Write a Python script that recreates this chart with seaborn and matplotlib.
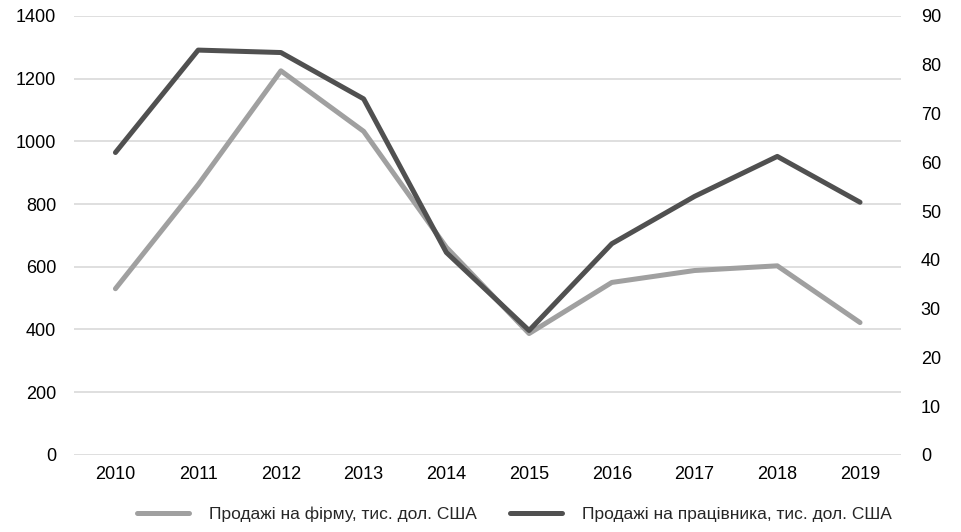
import pandas as pd
import seaborn as sns
import matplotlib.pyplot as plt

years = ['2010', '2011', '2012', '2013', '2014', '2015', '2016', '2017', '2018', '2019']
sales_per_firm = [530, 862, 1225, 1032, 662, 387, 550, 588, 603, 422]
sales_per_worker = [62, 83, 82.5, 73, 41.5, 25.5, 43.3, 53, 61.2, 51.8]

label_firm = 'Продажі на фірму, тис. дол. США'
label_worker = 'Продажі на працівника, тис. дол. США'

df = pd.DataFrame({'year': years, 'firm': sales_per_firm, 'worker': sales_per_worker})

sns.set_style('white')
plt.rcParams['font.family'] = ['Liberation Sans', 'DejaVu Sans']

fig = plt.figure(figsize=(9.62, 5.32), dpi=100)
ax = fig.add_axes([0.077, 0.145, 0.86, 0.825])
ax2 = ax.twinx()

sns.lineplot(data=df, x='year', y='firm', ax=ax, color='#a0a0a0', linewidth=3.6,
             label=label_firm, legend=False, zorder=3)
sns.lineplot(data=df, x='year', y='worker', ax=ax2, color='#505050', linewidth=3.6,
             label=label_worker, legend=False, zorder=3)

ax.set_ylim(0, 1400)
ax.set_yticks(range(0, 1401, 200))
ax2.set_ylim(0, 90)
ax2.set_yticks(range(0, 91, 10))
ax.set_xlim(-0.5, 9.5)

ax.grid(axis='y', color='#d9d9d9', linewidth=1.2)
ax.set_axisbelow(True)
for a in (ax, ax2):
    for s in a.spines.values():
        s.set_visible(False)
    a.set_xlabel('')
    a.set_ylabel('')
    a.tick_params(length=0, labelsize=13, colors='#000000')
ax.tick_params(axis='y', pad=13)
ax2.tick_params(axis='y', pad=14)
ax.tick_params(axis='x', pad=8)

h1, l1 = ax.get_legend_handles_labels()
h2, l2 = ax2.get_legend_handles_labels()
fig.legend(h1 + h2, l1 + l2, loc='lower center', bbox_to_anchor=(0.535, -0.01), ncol=2,
           frameon=False, fontsize=12.5, handlelength=3.0, handletextpad=1.15,
           columnspacing=1.9)

fig.savefig('out.png', dpi=100)
